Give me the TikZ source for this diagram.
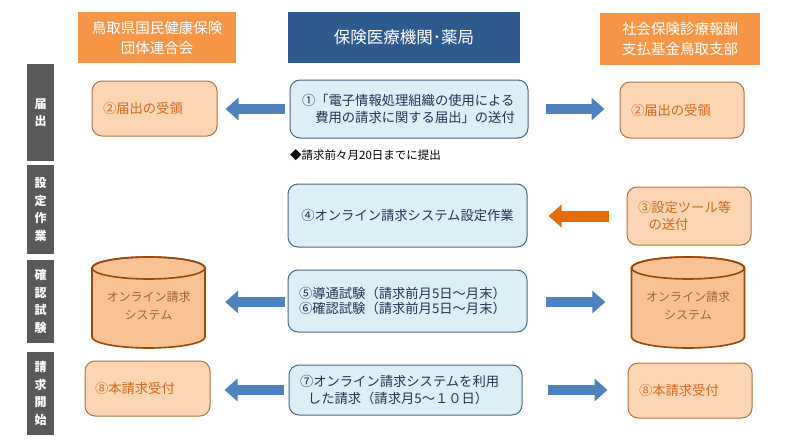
\documentclass[tikz,border=0pt]{standalone}
\usepackage{fontspec}
\setmainfont{Noto Sans CJK JP}
\usetikzlibrary{arrows.meta,calc}
\definecolor{hOrange}{HTML}{F79646}
\definecolor{hBlue}{HTML}{2F5A8E}
\definecolor{sideGray}{HTML}{595959}
\definecolor{bFill}{HTML}{DCEEF6}
\definecolor{bDraw}{HTML}{4A6784}
\definecolor{bText}{HTML}{1F3554}
\definecolor{oFill}{HTML}{FCD5B4}
\definecolor{oDraw}{HTML}{B7713A}
\definecolor{oText}{HTML}{D2691E}
\definecolor{cFill}{HTML}{F9C295}
\definecolor{cDraw}{HTML}{984807}
\definecolor{cText}{HTML}{A0603A}
\definecolor{aBlue}{HTML}{4F81BD}
\definecolor{aOrange}{HTML}{E46C0A}
\begin{document}
\begin{tikzpicture}[x=1pt,y=1pt,
  hdr/.style={text=white, align=center, inner sep=0pt, font=\fontsize{14.5}{20}\selectfont},
  hdrO/.style={hdr, fill=hOrange},
  hdrB/.style={hdr, fill=hBlue, font=\fontsize{16.5}{20}\selectfont},
  sidebar/.style={fill=sideGray, text=white, align=center, inner sep=0pt, minimum width=27pt,
    font=\bfseries\fontsize{12}{17.5}\selectfont},
  bbox/.style={rounded corners=10pt, draw=bDraw, fill=bFill, line width=1pt, text=bText,
    align=left, inner ysep=0pt, font=\fontsize{13.3}{17}\selectfont},
  obox/.style={rounded corners=10pt, draw=oDraw, fill=oFill, line width=1pt, text=oText,
    align=left, inner ysep=0pt, inner xsep=11pt, font=\fontsize{13.3}{17}\selectfont},
  cyltext/.style={text=cText, align=center, inner sep=0pt, minimum width=113pt, minimum height=91pt,
    font=\fontsize{12}{18}\selectfont},
  notetext/.style={anchor=west, inner sep=0pt, font=\fontsize{11.5}{14}\selectfont},
  bArr/.style={draw=aBlue, line width=10pt, -{Triangle[length=13pt,width=22pt]}},
  oArr/.style={draw=aOrange, line width=11pt, -{Triangle[length=13pt,width=22pt]}},
  cylpic/.pic={
    \path[fill=cFill, draw=cDraw, line width=1.6pt] (-56.5,34.5) -- (-56.5,-34.5)
      arc[start angle=180, end angle=360, x radius=56.5, y radius=11] -- (56.5,34.5)
      arc[start angle=0, end angle=180, x radius=56.5, y radius=11] -- cycle;
    \draw[cDraw, line width=1.6pt] (0,34.5) ellipse[x radius=56.5, y radius=11];
  }]
\useasboundingbox (0,0) rectangle (800,-444);

% headers
\node[hdrO, minimum width=158pt, minimum height=51pt] (hL) at (157,-37.5) {鳥取県国民健康保険\\団体連合会};
\node[hdrB, minimum width=232pt, minimum height=51pt] (hC) at (404,-37.5) {保険医療機関･薬局};
\node[hdrO, minimum width=160pt, minimum height=52pt] (hR) at (680,-39) {社会保険診療報酬\\支払基金鳥取支部};

% side bars
\node[sidebar, minimum height=97pt] (s1) at (40.5,-112.5) {届\\出};
\node[sidebar, minimum height=89pt] (s2) at (40.5,-209.5) {設\\定\\作\\業};
\node[sidebar, minimum height=83pt] (s3) at (40.5,-301.5) {確\\認\\試\\験};
\node[sidebar, minimum height=83pt] (s4) at (40.5,-393.5) {請\\求\\開\\始};

% row 1
\node[obox, minimum width=125pt, minimum height=55pt, text width=103pt] (l1) at (154.5,-108.5) {②届出の受領};
\node[bbox, minimum width=238pt, minimum height=58pt, inner xsep=12pt, text width=214pt] (c1) at (409,-109)
  {①「電子情報処理組織の使用による\\\hspace*{1em}費用の請求に関する届出」の送付};
\node[obox, minimum width=124pt, minimum height=56pt, text width=102pt] (r1) at (682,-110) {②届出の受領};
\node[notetext] (n1) at (290,-155) {◆請求前々月20日までに提出};

% row 2
\node[bbox, minimum width=239pt, minimum height=63pt, inner xsep=9pt, text width=221pt, align=center] (c2) at (407.5,-215.5)
  {④オンライン請求システム設定作業};
\node[obox, minimum width=124pt, minimum height=58pt, text width=102pt] (r2) at (689,-216)
  {③設定ツール等\\\hspace*{0.8em}の送付};

% row 3
\pic at (148.5,-302.5) {cylpic};
\node[cyltext] (cylL) at (148.5,-302.5) {\\[-2pt]オンライン請求\\システム};
\pic at (688,-302.5) {cylpic};
\node[cyltext] (cylR) at (688,-302.5) {\\[-2pt]オンライン請求\\システム};
\node[bbox, minimum width=239pt, minimum height=62pt, inner xsep=11pt, text width=217pt,
  font=\fontsize{13.3}{14.5}\selectfont] (c3) at (407.5,-301)
  {⑤導通試験（請求前月5日～月末）\\⑥確認試験（請求前月5日～月末）\\[3pt]};

% row 4
\node[obox, minimum width=125pt, minimum height=55pt, inner xsep=10pt, text width=105pt] (l4) at (147.5,-388.5) {⑧本請求受付};
\node[bbox, minimum width=233pt, minimum height=50pt, inner xsep=11pt, text width=211pt] (c4) at (405.5,-390)
  {⑦オンライン請求システムを利用\\\hspace*{0.6em}した請求（請求月5～１０日）};
\node[obox, minimum width=124pt, minimum height=55pt, text width=102pt] (r4) at (690,-390.5) {⑧本請求受付};

% arrows
\draw[bArr] ($(c1.west)+(-5,0)$) -- ($(c1.west -| l1.east)+(8,0)$);
\draw[bArr] ($(c1.east)+(17,0)$) -- ($(c1.east -| r1.west)+(-15,0)$);
\draw[oArr] ($(r2.west)+(-18,0)$) -- ($(r2.west -| c2.east)+(21,0)$);
\draw[bArr] ($(c3.west)+(-3,-1)$) -- ($(c3.west -| cylL.east)+(20,-1)$);
\draw[bArr] ($(c3.east)+(18,-1)$) -- ($(c3.east -| cylR.west)+(-26,-1)$);
\draw[bArr] ($(c4.west)+(-5,0)$) -- ($(c4.west -| l4.east)+(14,0)$);
\draw[bArr] ($(c4.east)+(25,0)$) -- ($(c4.east -| r4.west)+(-20,0)$);
\end{tikzpicture}
\end{document}
